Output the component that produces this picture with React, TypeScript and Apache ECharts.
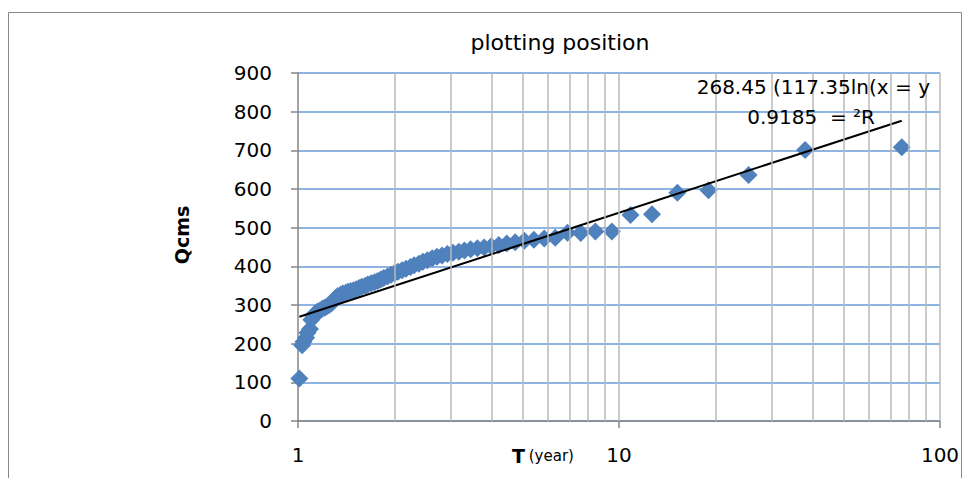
import React, { useEffect, useRef } from "react";
import * as echarts from "echarts";

// Return period T (year), Weibull plotting positions
const T_YEARS = [
  76, 38, 25.33, 19, 15.2, 12.67, 10.86, 9.5, 8.44, 7.6,
  6.91, 6.33, 5.85, 5.43, 5.07, 4.75, 4.47, 4.22, 4.0, 3.8,
  3.62, 3.45, 3.3, 3.17, 3.04, 2.92, 2.81, 2.71, 2.62, 2.53,
  2.45, 2.38, 2.3, 2.24, 2.17, 2.11, 2.05, 2.0, 1.95, 1.9,
  1.85, 1.81, 1.77, 1.73, 1.69, 1.65, 1.62, 1.58, 1.55, 1.52,
  1.49, 1.46, 1.43, 1.41, 1.38, 1.36, 1.33, 1.31, 1.29, 1.27,
  1.25, 1.23, 1.21, 1.19, 1.17, 1.15, 1.13, 1.12, 1.1, 1.09,
  1.07, 1.06, 1.04, 1.03, 1.01,
];

// Discharge Qcms
const Q_CMS = [
  708, 701, 636, 597, 590, 535, 533, 490, 490, 486,
  487, 474, 472, 469, 466, 462, 459, 455, 452, 449,
  447, 444, 441, 438, 435, 432, 428, 425, 421, 416,
  412, 407, 403, 398, 394, 390, 386, 382, 378, 374,
  370, 366, 362, 359, 356, 353, 350, 347, 344, 341,
  338, 336, 334, 332, 330, 327, 323, 318, 310, 304,
  300, 296, 293, 290, 286, 283, 278, 270, 262, 238,
  228, 215, 205, 196, 110,
];

// Logarithmic trendline shown on the chart: y = 117.35 ln(x) + 268.45
const TREND_A = 117.35;
const TREND_B = 268.45;
const TREND_X = [1.01, 76];

// Vertical log grid lines
const GRID_X = [2, 3, 4, 5, 6, 7, 8, 9, 10, 20, 30, 40, 50, 60, 70, 80, 90, 100];

const Y_TICKS = { min: 0, max: 900, interval: 100 };

const TITLE = "plotting position";
const Y_NAME = "Qcms";
const EQ_LINE1 = "268.45 (117.35ln(x = y";
const EQ_LINE2 = "0.9185  = ²R";

const FONT = '"DejaVu Sans", "Noto Sans", sans-serif';

export default function App() {
  const ref = useRef<HTMLDivElement>(null);

  useEffect(() => {
    if (!ref.current) return;
    const chart = echarts.init(ref.current, undefined, { renderer: "svg" });

    const scatterData = T_YEARS.map((t, i) => [t, Q_CMS[i]]);
    const trendData = TREND_X.map((x) => [x, TREND_A * Math.log(x) + TREND_B]);

    chart.setOption({
      animation: false,
      backgroundColor: "#ffffff",
      textStyle: { fontFamily: FONT },
      grid: { left: 298, right: 27, top: 73, bottom: 57, containLabel: false },
      xAxis: {
        type: "log",
        logBase: 10,
        min: 1,
        max: 100,
        axisLine: { show: true, lineStyle: { color: "#868686", width: 1.5 } },
        axisTick: { show: true, length: 7, lineStyle: { color: "#868686", width: 1.5 } },
        axisLabel: { fontSize: 20, color: "#000", margin: 24, fontFamily: FONT },
        splitLine: { show: false },
        minorTick: { show: false },
      },
      yAxis: {
        type: "value",
        min: Y_TICKS.min,
        max: Y_TICKS.max,
        interval: Y_TICKS.interval,
        axisLine: { show: true, lineStyle: { color: "#868686", width: 1.5 } },
        axisTick: { show: true, length: 7, lineStyle: { color: "#868686", width: 1.5 } },
        axisLabel: { fontSize: 20, color: "#000", margin: 26, fontFamily: FONT },
        splitLine: { show: true, lineStyle: { color: "#6A9BD8", width: 1.5 } },
      },
      series: [
        {
          type: "scatter",
          name: "grid",
          data: [],
          z: 1,
          silent: true,
          markLine: {
            silent: true,
            symbol: ["none", "none"],
            label: { show: false },
            emphasis: { disabled: true },
            lineStyle: { color: "#B8B8B8", width: 1.5, type: "solid" },
            data: GRID_X.map((v) => ({ xAxis: v })),
          },
        },
        {
          type: "scatter",
          name: "Q",
          data: scatterData,
          symbol: "diamond",
          symbolSize: [18, 18],
          itemStyle: { color: "#4F81BD", opacity: 1 },
          z: 3,
        },
        {
          type: "line",
          name: "trend",
          data: trendData,
          symbol: "none",
          lineStyle: { color: "#000", width: 2 },
          z: 4,
        },
      ],
      graphic: [
        {
          type: "rect",
          shape: { x: 8.5, y: 12.5, width: 953, height: 500 },
          style: { fill: "none", stroke: "#888", lineWidth: 1 },
          silent: true,
          z: 0,
        },
        {
          type: "text",
          x: 560,
          y: 42,
          style: {
            text: TITLE,
            fontSize: 22,
            fontFamily: FONT,
            fill: "#000",
            align: "center",
            verticalAlign: "middle",
          },
        },
        {
          type: "text",
          x: 182,
          y: 235,
          rotation: Math.PI / 2,
          style: {
            text: Y_NAME,
            fontSize: 19,
            fontWeight: "bold",
            fontFamily: FONT,
            fill: "#000",
            align: "center",
            verticalAlign: "middle",
          },
        },
        {
          type: "text",
          x: 512,
          y: 456,
          style: {
            text: "{b|T} {s|(year)}",
            fontFamily: FONT,
            fill: "#000",
            align: "left",
            verticalAlign: "middle",
            rich: {
              b: { fontSize: 19, fontWeight: "bold", fontFamily: FONT, fill: "#000" },
              s: { fontSize: 15, fontFamily: FONT, fill: "#000" },
            },
          },
        },
        {
          type: "text",
          x: 930,
          y: 87,
          z: 10,
          style: {
            text: EQ_LINE1,
            fontSize: 20,
            fontFamily: FONT,
            fill: "#000",
            align: "right",
            verticalAlign: "middle",
          },
        },
        {
          type: "text",
          x: 875,
          y: 117,
          z: 10,
          style: {
            text: EQ_LINE2,
            fontSize: 20,
            fontFamily: FONT,
            fill: "#000",
            align: "right",
            verticalAlign: "middle",
          },
        },
      ],
    });

    return () => chart.dispose();
  }, []);

  return (
    <div
      ref={ref}
      style={{ position: "fixed", left: 0, top: 0, width: 967, height: 478 }}
    />
  );
}
